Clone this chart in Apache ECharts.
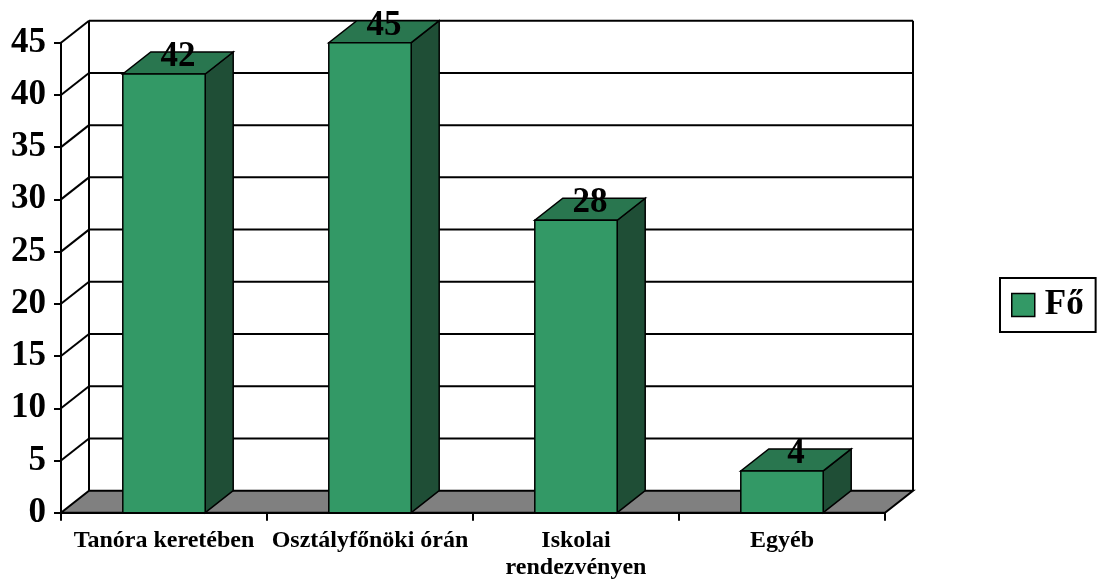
<!DOCTYPE html>
<html>
<head>
<meta charset="utf-8">
<script src="https://cdn.jsdelivr.net/npm/echarts@6/dist/echarts.min.js"></script>
<style>
html,body{margin:0;padding:0;background:#fff;}
#chart{width:1099px;height:584px;}
</style>
</head>
<body>
<div id="chart"></div>
<script>
const categories = ['Tanóra keretében', 'Osztályfőnöki órán', 'Iskolai rendezvényen', 'Egyéb'];
const values = [42, 45, 28, 4];
const yTicks = [0, 5, 10, 15, 20, 25, 30, 35, 40, 45];
const seriesName = 'Fő';

const DX = 28, DY = -22;
const FONT = "'Liberation Serif', 'Times New Roman', serif";
const FRONT = '#339966', TOP = '#29764f', SIDE = '#1f4e36', FLOOR = '#808080';

const chart = echarts.init(document.getElementById('chart'), null, {renderer: 'canvas'});

function wallRender(params, api) {
  const cs = params.coordSys;
  const v = api.value(1);
  const y = api.coord([0, v])[1];
  const x0 = cs.x, x1 = cs.x + cs.width;
  const ls = {stroke: '#000', lineWidth: 2, fill: null};
  const children = [];
  if (v === 0) {
    children.push({type: 'polygon', shape: {points: [[x0, y], [x1, y], [x1 + DX, y + DY], [x0 + DX, y + DY]]},
      style: {fill: FLOOR, stroke: '#000', lineWidth: 2}});
    const yTop = api.coord([0, yTicks[yTicks.length - 1]])[1];
    children.push({type: 'line', shape: {x1: x0 + DX, y1: y + DY, x2: x0 + DX, y2: yTop + DY}, style: ls});
    children.push({type: 'line', shape: {x1: x1 + DX, y1: y + DY, x2: x1 + DX, y2: yTop + DY}, style: ls});
  } else {
    children.push({type: 'line', shape: {x1: x0, y1: y, x2: x0 + DX, y2: y + DY}, style: ls});
    children.push({type: 'line', shape: {x1: x0 + DX, y1: y + DY, x2: x1 + DX, y2: y + DY}, style: ls});
  }
  return {type: 'group', children: children};
}

function barRender(params, api) {
  const idx = api.value(0), v = api.value(1);
  const c = api.coord([idx, v]);
  const b = api.coord([idx, 0]);
  const bw = api.size([1, 0])[0] * 0.40;
  const xa = c[0] - bw / 2, xb = c[0] + bw / 2, yt = c[1], yb = b[1];
  const st = {stroke: '#000', lineWidth: 1.5};
  return {type: 'group', children: [
    {type: 'polygon', shape: {points: [[xb, yt], [xb + DX, yt + DY], [xb + DX, yb + DY], [xb, yb]]}, style: Object.assign({fill: SIDE}, st)},
    {type: 'polygon', shape: {points: [[xa, yt], [xb, yt], [xb + DX, yt + DY], [xa + DX, yt + DY]]}, style: Object.assign({fill: TOP}, st)},
    {type: 'rect', shape: {x: xa, y: yt, width: bw, height: yb - yt}, style: Object.assign({fill: FRONT}, st)},
    {type: 'text', x: c[0] + DX / 2, y: yt + DY / 2 - 6, style: {text: String(v), fill: '#000',
      font: 'bold 35px ' + FONT, align: 'center', verticalAlign: 'middle'}}
  ]};
}

chart.setOption({
  animation: false,
  backgroundColor: '#fff',
  grid: {left: 61, right: 214, top: 42.7, bottom: 71.3, containLabel: false},
  legend: {
    data: [seriesName],
    left: 1000, top: 278,
    orient: 'vertical',
    padding: [7, 12, 7, 11],
    itemWidth: 23, itemHeight: 23, itemGap: 0,
    icon: 'rect',
    borderColor: '#000', borderWidth: 2,
    itemStyle: {borderColor: '#000', borderWidth: 1.5},
    textStyle: {fontFamily: FONT, fontWeight: 'bold', fontSize: 35, color: '#000', padding: [4, 0, 0, 5], lineHeight: 36}
  },
  xAxis: {
    type: 'category',
    data: categories,
    boundaryGap: true,
    axisLine: {lineStyle: {color: '#000', width: 2}},
    axisTick: {show: true, length: 8, lineStyle: {color: '#000', width: 2}},
    axisLabel: {color: '#000', fontFamily: FONT, fontWeight: 'bold', fontSize: 24, margin: 15,
      lineHeight: 27, interval: 0,
      formatter: function (v) { return v.length > 19 ? v.replace(/ (?=\S+$)/, '\n') : v; }},
    splitLine: {show: false}
  },
  yAxis: {
    type: 'value',
    min: 0, max: 45, interval: 5,
    axisLine: {show: true, lineStyle: {color: '#000', width: 2}},
    axisTick: {show: true, length: 7, lineStyle: {color: '#000', width: 2}},
    axisLabel: {color: '#000', fontFamily: FONT, fontWeight: 'bold', fontSize: 35, margin: 15, padding: [10, 0, 0, 0]},
    splitLine: {show: false}
  },
  series: [
    {
      type: 'custom', name: 'walls', silent: true, clip: false, z: 1,
      renderItem: wallRender,
      encode: {x: 0, y: 1},
      data: yTicks.map(v => [0, v])
    },
    {
      type: 'custom', name: seriesName, clip: false, z: 3,
      itemStyle: {color: FRONT},
      renderItem: barRender,
      encode: {x: 0, y: 1},
      data: values.map((v, i) => [i, v])
    }
  ]
});
</script>
</body>
</html>
